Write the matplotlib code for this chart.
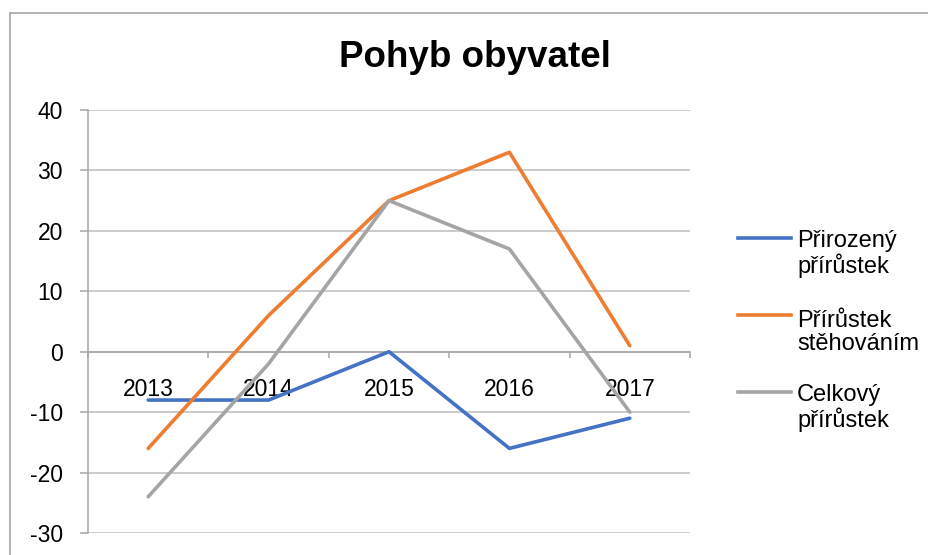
import matplotlib
matplotlib.use("Agg")
import matplotlib.pyplot as plt
from matplotlib.lines import Line2D

years = ["2013", "2014", "2015", "2016", "2017"]
prirozeny = [-8, -8, 0, -16, -11]
stehovani = [-16, 6, 25, 33, 1]
celkovy = [-24, -2, 25, 17, -10]
series_names = ["Přirozený\npřírůstek", "Přírůstek\nstěhováním", "Celkový\npřírůstek"]
colors = ["#4472C4", "#ED7D31", "#A5A5A5"]
yticks = [-30, -20, -10, 0, 10, 20, 30, 40]

W, H = 929, 555
fig = plt.figure(figsize=(W / 100, H / 100), dpi=100)
plt.rcParams['font.family'] = ['Liberation Sans', 'DejaVu Sans']

def fx(px):
    return px / W

def fy(py):
    return 1 - py / H

ax = fig.add_axes([fx(88), fy(533), fx(690) - fx(88), fy(110) - fy(533)])
x = list(range(len(years)))
for vals, c in zip([prirozeny, stehovani, celkovy], colors):
    ax.plot(x, vals, color=c, lw=2.6, solid_capstyle='round', solid_joinstyle='round', zorder=3)

ax.set_xlim(-0.5, len(years) - 0.5)
ax.set_ylim(-30, 40)
ax.set_yticks(yticks)
ax.set_yticklabels([str(v) for v in yticks], fontsize=16.5)
ax.grid(axis='y', color='#BDBDBD', lw=1.1)
ax.set_axisbelow(True)

ax.spines['top'].set_visible(False)
ax.spines['right'].set_visible(False)
ax.spines['bottom'].set_position(('data', 0))
ax.spines['bottom'].set_color('#A6A6A6')
ax.spines['left'].set_color('#A6A6A6')
ax.spines['bottom'].set_linewidth(1.1)
ax.spines['left'].set_linewidth(1.1)

ax.set_xticks(x)
ax.set_xticklabels(years, fontsize=16.5)
ax.set_xticks([i - 0.5 for i in range(len(years) + 1)], minor=True)
ax.tick_params(axis='x', which='major', length=0, pad=19)
ax.tick_params(axis='x', which='minor', length=4, direction='out', color='#A6A6A6', width=1.1)
ax.tick_params(axis='y', length=6, color='#A6A6A6', width=1.1, pad=12)

# title
fig.text(fx(475), fy(57), "Pohyb obyvatel", fontsize=26.5, fontweight='bold', ha='center', va='center')

# legend
for i, (name, c) in enumerate(zip(series_names, colors)):
    yl = [238, 315, 392][i]
    fig.add_artist(Line2D([fx(738), fx(791)], [fy(yl), fy(yl)], color=c, lw=2.6, transform=fig.transFigure))
    fig.text(fx(797), fy(yl + 35), name, fontsize=17, ha='left', va='baseline', linespacing=1.05)

# outer frame
fig.add_artist(Line2D([fx(10), 1], [fy(12.5), fy(12.5)], color='#A6A6A6', lw=1.2, transform=fig.transFigure))
fig.add_artist(Line2D([fx(10), fx(10)], [0, fy(12.5)], color='#A6A6A6', lw=1.2, transform=fig.transFigure))

fig.savefig("out.png", dpi=100)
